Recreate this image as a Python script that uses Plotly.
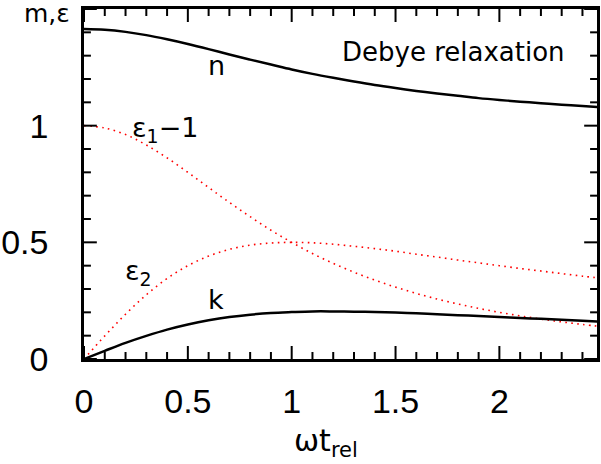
import plotly.graph_objects as go

# Debye relaxation: dielectric function and refractive index vs. omega*t_rel
omega_t = [0.0, 0.1, 0.2, 0.3, 0.4, 0.5, 0.6, 0.7, 0.8, 0.9, 1.0, 1.1, 1.2,
           1.3, 1.4, 1.5, 1.6, 1.7, 1.8, 1.9, 2.0, 2.1, 2.2, 2.3, 2.4, 2.5]

n_vals = [1.414, 1.411, 1.402, 1.388, 1.370, 1.350, 1.328, 1.305, 1.283,
          1.262, 1.241, 1.222, 1.205, 1.189, 1.174, 1.161, 1.149, 1.138,
          1.128, 1.118, 1.110, 1.103, 1.096, 1.090, 1.084, 1.079]

k_vals = [0.000, 0.035, 0.069, 0.099, 0.126, 0.148, 0.166, 0.180, 0.190,
          0.197, 0.201, 0.204, 0.204, 0.203, 0.201, 0.199, 0.196, 0.192,
          0.188, 0.184, 0.180, 0.176, 0.172, 0.168, 0.164, 0.160]

eps1_minus1 = [1.000, 0.990, 0.962, 0.917, 0.862, 0.800, 0.735, 0.671, 0.610,
               0.552, 0.500, 0.452, 0.410, 0.372, 0.338, 0.308, 0.281, 0.257,
               0.236, 0.217, 0.200, 0.185, 0.171, 0.159, 0.148, 0.138]

eps2 = [0.000, 0.099, 0.192, 0.275, 0.345, 0.400, 0.441, 0.470, 0.488,
        0.497, 0.500, 0.498, 0.492, 0.483, 0.473, 0.462, 0.449, 0.437,
        0.424, 0.412, 0.400, 0.388, 0.377, 0.366, 0.355, 0.345]

x_ticks = [0, 0.5, 1, 1.5, 2]
x_tick_text = ["0", "0.5", "1", "1.5", "2"]
y_ticks = [0, 0.5, 1]
y_tick_text = ["0", "0.5", "1"]
x_minor = [0.1, 0.2, 0.3, 0.4, 0.6, 0.7, 0.8, 0.9, 1.1, 1.2, 1.3, 1.4,
           1.6, 1.7, 1.8, 1.9, 2.1, 2.2, 2.3, 2.4]
y_minor = [0.1, 0.2, 0.3, 0.4, 0.6, 0.7, 0.8, 0.9, 1.1, 1.2, 1.3, 1.4]
y_major_unlabelled = [1.5]

X_RANGE = [0, 2.47]
Y_RANGE = [0, 1.5]

FONT = "DejaVu Sans"
TICK_FONT = "Liberation Sans"
W, H = 601, 464
L, R, T, B = 80, 1, 9, 105
MAJOR_LEN, MINOR_LEN = 13, 7

# data units per screen pixel, used to give tick marks a fixed pixel length
DX = (X_RANGE[1] - X_RANGE[0]) / (W - L - R)
DY = (Y_RANGE[1] - Y_RANGE[0]) / (H - T - B)

fig = go.Figure()

red_dot = dict(color="#ff0000", width=1.6, dash="1.6px,4.4px")
fig.add_trace(go.Scatter(x=omega_t, y=eps1_minus1, mode="lines",
                         line=red_dot, line_shape="spline"))
fig.add_trace(go.Scatter(x=omega_t, y=eps2, mode="lines",
                         line=red_dot, line_shape="spline"))
fig.add_trace(go.Scatter(x=omega_t, y=n_vals, mode="lines",
                         line=dict(color="black", width=2.5), line_shape="spline"))
fig.add_trace(go.Scatter(x=omega_t, y=k_vals, mode="lines",
                         line=dict(color="black", width=2.5), line_shape="spline"))

# inward tick marks on all four sides of the frame
tick_x, tick_y = [], []
for vals, length in ((x_ticks, MAJOR_LEN), (x_minor, MINOR_LEN)):
    for v in vals:
        tick_x += [v, v, None, v, v, None]
        tick_y += [Y_RANGE[0], Y_RANGE[0] + length * DY, None,
                   Y_RANGE[1], Y_RANGE[1] - length * DY, None]
for vals, length in ((y_ticks + y_major_unlabelled, MAJOR_LEN),
                     (y_minor, MINOR_LEN)):
    for v in vals:
        tick_x += [X_RANGE[0], X_RANGE[0] + length * DX, None,
                   X_RANGE[1], X_RANGE[1] - length * DX, None]
        tick_y += [v, v, None, v, v, None]
fig.add_trace(go.Scatter(x=tick_x, y=tick_y, mode="lines", cliponaxis=False,
                         line=dict(color="black", width=2), hoverinfo="skip"))

frame = dict(showline=True, linecolor="black", linewidth=2.5, mirror=True,
             ticks="", showgrid=False, zeroline=False)

fig.update_layout(
    xaxis=dict(range=X_RANGE, tickmode="array", tickvals=x_ticks,
               ticktext=x_tick_text, ticklabelstandoff=10,
               tickfont=dict(family=TICK_FONT, size=34, color="black"), **frame),
    yaxis=dict(range=Y_RANGE, tickmode="array", tickvals=y_ticks,
               ticktext=y_tick_text, ticklabelstandoff=26,
               tickfont=dict(family=TICK_FONT, size=34, color="black"), **frame),
)


def px_x(px):
    return (px - L) / (W - L - R)


def px_y(py):
    return (H - B - py) / (H - T - B)


label_font = dict(family=FONT, size=27, color="black")
annotations = [
    dict(x=1.78, y=1.316, xref="x", yref="y", text="Debye relaxation",
         font=dict(family=FONT, size=26, color="black")),
    dict(x=0.637, y=1.26, xref="x", yref="y", text="n", font=label_font),
    dict(x=0.637, y=0.255, xref="x", yref="y", text="k", font=label_font),
    dict(x=0.39, y=0.985, xref="x", yref="y",
         text="ε<sub>1</sub>−1", font=label_font),
    dict(x=0.26, y=0.37, xref="x", yref="y",
         text="ε<sub>2</sub>", font=label_font),
    dict(x=px_x(68), y=px_y(14), xref="paper", yref="paper", text="m,ε",
         xanchor="right", font=dict(family=FONT, size=25, color="black")),
    dict(x=px_x(325), y=px_y(442), xref="paper", yref="paper",
         text="ωt<sub>rel</sub>",
         font=dict(family=FONT, size=30, color="black")),
]
for a in annotations:
    a.setdefault("xanchor", "center")
    a["yanchor"] = "middle"
    a["showarrow"] = False

fig.update_layout(
    width=W, height=H,
    margin=dict(l=L, r=R, t=T, b=B),
    plot_bgcolor="white",
    showlegend=False,
    annotations=annotations,
)

fig.write_html("out.html")
